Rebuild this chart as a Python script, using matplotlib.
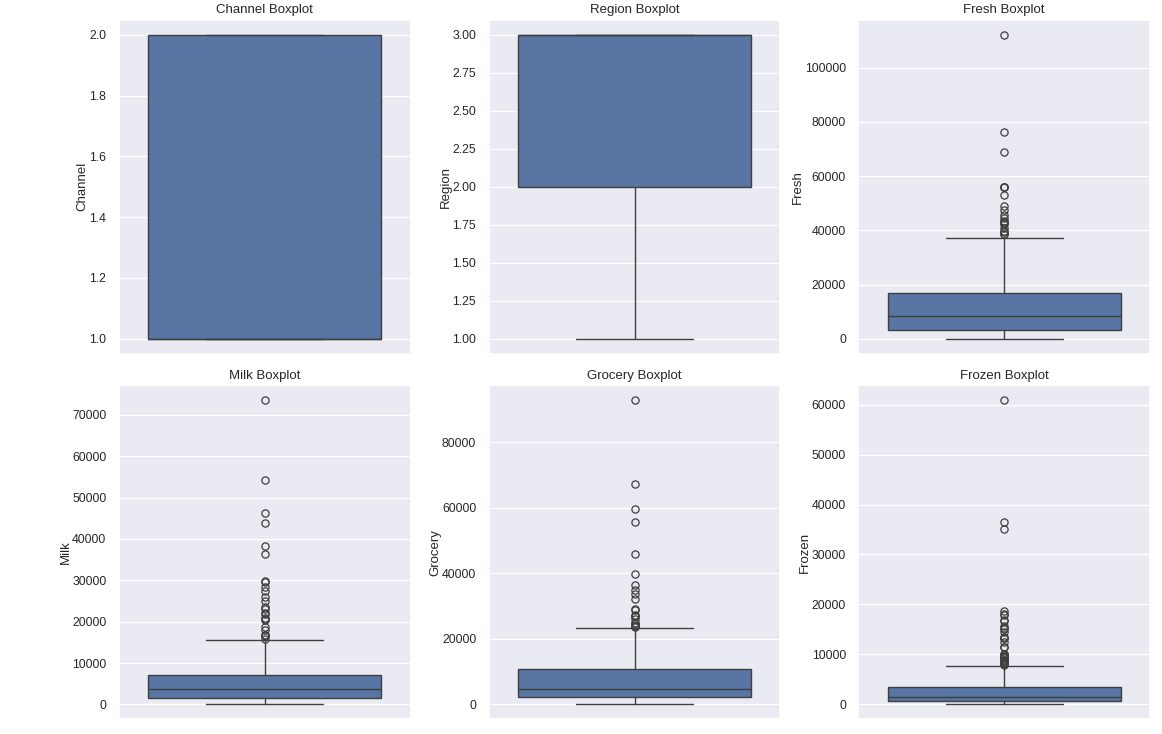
import matplotlib
matplotlib.use("Agg")
import matplotlib.pyplot as plt
import seaborn as sns

# ---- data (box statistics per column) ----
columns = ["Channel", "Region", "Fresh", "Milk", "Grocery", "Frozen"]

q1_values = [1, 2, 3128, 1533, 2153, 742]
median_values = [1, 3, 8504, 3627, 4756, 1526]
q3_values = [2, 3, 16934, 7190, 10656, 3554]
whisker_low = [1, 1, 3, 55, 3, 25]
whisker_high = [2, 3, 37036, 15488, 23127, 7600]

fresh_outliers = [112151, 76237, 68951, 56159, 56083, 56082, 53205, 49063,
                  47493, 45640, 44466, 43265, 43088, 42786, 42312, 40721,
                  39679, 39228, 38793, 38602]
milk_outliers = [73498, 54259, 46197, 43950, 38369, 36423, 29892, 29627,
                 28326, 27472, 25862, 25071, 23527, 23133, 22044, 21858,
                 20959, 20655, 20484, 18664, 17972, 16729, 16687, 16538,
                 15729]
grocery_outliers = [92780, 67298, 59598, 55571, 45828, 39694, 36486, 34792,
                    33586, 32114, 28986, 28921, 27270, 26870, 26839, 25957,
                    24773, 24708, 24171, 23998, 23596]
frozen_outliers = [60869, 36534, 35009, 18711, 18028, 17866, 16919, 16745,
                   15601, 15348, 15082, 14472, 13486, 13252, 13223, 12569,
                   11559, 11422, 10155, 10002, 9806, 9735, 9584, 9408, 9222,
                   8933, 8853, 8692, 8425, 8321, 8132, 7888]
outliers = [[], [], fresh_outliers, milk_outliers, grocery_outliers, frozen_outliers]

sns.set_theme(style="darkgrid")
plt.rcParams["font.family"] = ["Liberation Sans", "DejaVu Sans"]

box_color = "#5875a4"
line_color = "#3f3f3f"

fig, axes = plt.subplots(2, 3, figsize=(11.62, 7.34), dpi=100)
fig.subplots_adjust(left=0.1024, right=0.9897, top=0.9734, bottom=0.0198,
                    wspace=0.268, hspace=0.093)

for i, ax in enumerate(axes.flat):
    stats = [{
        "q1": q1_values[i], "med": median_values[i], "q3": q3_values[i],
        "whislo": whisker_low[i], "whishi": whisker_high[i],
        "fliers": outliers[i],
    }]
    ax.bxp(stats, positions=[0], widths=0.8, capwidths=[0.4],
           patch_artist=True, showfliers=True,
           boxprops=dict(facecolor=box_color, edgecolor=line_color, linewidth=1.0),
           medianprops=dict(color=line_color, linewidth=1.0),
           whiskerprops=dict(color=line_color, linewidth=1.0),
           capprops=dict(color=line_color, linewidth=1.0),
           flierprops=dict(marker="o", markerfacecolor="none",
                           markeredgecolor=line_color, markersize=5.2,
                           markeredgewidth=0.9))
    ax.set_xlim(-0.5, 0.5)
    ax.set_xticks([])
    ax.set_title(f"{columns[i]} Boxplot", fontsize=9.5, pad=4.5)
    ax.set_ylabel(columns[i], fontsize=9.5, labelpad=0.5)
    ax.tick_params(axis="y", labelsize=8.8, pad=3)
    ax.grid(axis="x", visible=False)
    for gl in ax.get_ygridlines():
        gl.set_linewidth(0.9)

fig.savefig("out.png", dpi=100)
